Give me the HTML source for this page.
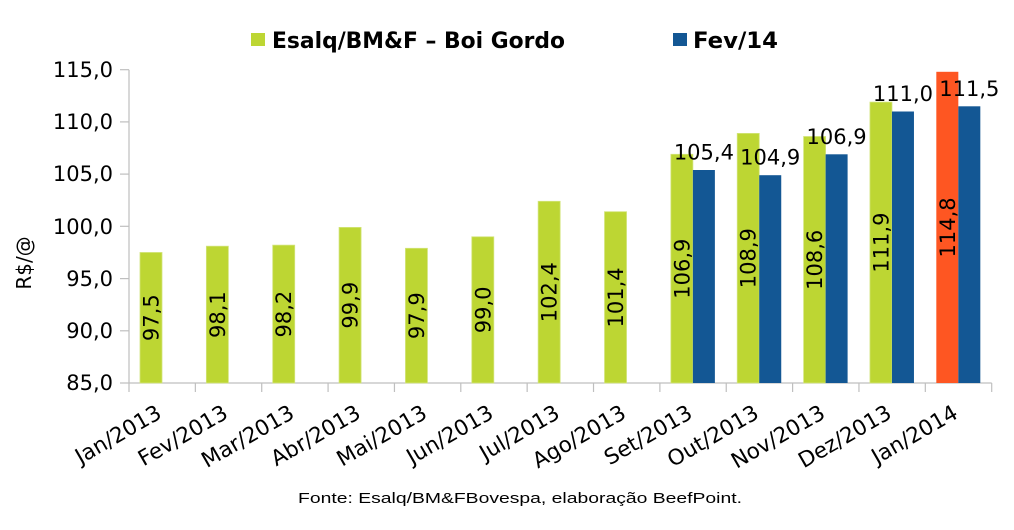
<!DOCTYPE html>
<html><head><meta charset="utf-8"><style>
html,body{margin:0;padding:0;background:#fff;}
svg{display:block;}
text{font-family:"DejaVu Sans","Liberation Sans",sans-serif;fill:#000;}
</style></head><body>
<svg width="1014" height="530" viewBox="0 0 1014 530" xmlns="http://www.w3.org/2000/svg">
<rect width="1014" height="530" fill="#fff"/>
<!-- legend -->
<rect x="251" y="33" width="14" height="13" fill="#bdd633"/>
<text x="272" y="48" font-size="22" font-weight="bold" textLength="293" lengthAdjust="spacingAndGlyphs">Esalq/BM&amp;F – Boi Gordo</text>
<rect x="673" y="33" width="14" height="13" fill="#135794"/>
<text x="693" y="48" font-size="22" font-weight="bold" textLength="85" lengthAdjust="spacingAndGlyphs">Fev/14</text>

<!-- axes -->
<g stroke="#bfbfbf" stroke-width="1.2" fill="none">
<line x1="129" y1="69.7" x2="129" y2="383"/>
<line x1="129" y1="383" x2="991.7" y2="383"/>
<line x1="120" y1="69.7" x2="129" y2="69.7"/>
<line x1="120" y1="121.9" x2="129" y2="121.9"/>
<line x1="120" y1="174.1" x2="129" y2="174.1"/>
<line x1="120" y1="226.3" x2="129" y2="226.3"/>
<line x1="120" y1="278.6" x2="129" y2="278.6"/>
<line x1="120" y1="330.8" x2="129" y2="330.8"/>
<line x1="120" y1="383" x2="129" y2="383"/>
<line x1="129" y1="383" x2="129" y2="392"/>
<line x1="195.36" y1="383" x2="195.36" y2="392"/>
<line x1="261.72" y1="383" x2="261.72" y2="392"/>
<line x1="328.08" y1="383" x2="328.08" y2="392"/>
<line x1="394.44" y1="383" x2="394.44" y2="392"/>
<line x1="460.8" y1="383" x2="460.8" y2="392"/>
<line x1="527.16" y1="383" x2="527.16" y2="392"/>
<line x1="593.52" y1="383" x2="593.52" y2="392"/>
<line x1="659.88" y1="383" x2="659.88" y2="392"/>
<line x1="726.24" y1="383" x2="726.24" y2="392"/>
<line x1="792.6" y1="383" x2="792.6" y2="392"/>
<line x1="858.96" y1="383" x2="858.96" y2="392"/>
<line x1="925.32" y1="383" x2="925.32" y2="392"/>
<line x1="991.7" y1="383" x2="991.7" y2="392"/>
</g>

<!-- y tick labels -->
<g font-size="21" text-anchor="end">
<text x="113" y="77">115,0</text>
<text x="113" y="129">110,0</text>
<text x="113" y="181">105,0</text>
<text x="113" y="234">100,0</text>
<text x="113" y="286">95,0</text>
<text x="113" y="338">90,0</text>
<text x="113" y="390">85,0</text>
</g>
<text transform="translate(31,263) rotate(-90)" font-size="20" text-anchor="middle">R$/@</text>

<!-- green bars -->
<g fill="#bdd633" stroke="#d2e47a" stroke-width="0.8">
<rect x="140" y="252.46" width="22" height="130.54"/>
<rect x="206.36" y="246.2" width="22" height="136.8"/>
<rect x="272.72" y="245.15" width="22" height="137.85"/>
<rect x="339.08" y="227.4" width="22" height="155.6"/>
<rect x="405.44" y="248.3" width="22" height="134.7"/>
<rect x="471.8" y="236.8" width="22" height="146.2"/>
<rect x="538.16" y="201.3" width="22" height="181.7"/>
<rect x="604.52" y="211.7" width="22" height="171.3"/>
<rect x="670.88" y="154.3" width="22" height="228.7"/>
<rect x="737.24" y="133.4" width="22" height="249.6"/>
<rect x="803.6" y="136.5" width="22" height="246.5"/>
<rect x="869.96" y="102.1" width="22" height="280.9"/>
</g>
<rect x="936.32" y="71.8" width="22" height="311.2" fill="#fe5622"/>
<!-- blue bars -->
<g fill="#135794">
<rect x="692.88" y="170" width="22" height="213"/>
<rect x="759.24" y="175.2" width="22" height="207.8"/>
<rect x="825.6" y="154.3" width="22" height="228.7"/>
<rect x="891.96" y="111.5" width="22" height="271.5"/>
<rect x="958.32" y="106.3" width="22" height="276.7"/>
</g>

<!-- rotated labels in bars -->
<g font-size="21" text-anchor="middle">
<text transform="translate(151,317.7) rotate(-90)" dy="7.5">97,5</text>
<text transform="translate(217.36,314.6) rotate(-90)" dy="7.5">98,1</text>
<text transform="translate(283.72,314.1) rotate(-90)" dy="7.5">98,2</text>
<text transform="translate(350.08,305.2) rotate(-90)" dy="7.5">99,9</text>
<text transform="translate(416.44,315.7) rotate(-90)" dy="7.5">97,9</text>
<text transform="translate(482.8,309.9) rotate(-90)" dy="7.5">99,0</text>
<text transform="translate(549.16,292.2) rotate(-90)" dy="7.5">102,4</text>
<text transform="translate(615.52,297.4) rotate(-90)" dy="7.5">101,4</text>
<text transform="translate(681.88,268.7) rotate(-90)" dy="7.5">106,9</text>
<text transform="translate(748.24,258.2) rotate(-90)" dy="7.5">108,9</text>
<text transform="translate(814.6,259.8) rotate(-90)" dy="7.5">108,6</text>
<text transform="translate(880.96,242.6) rotate(-90)" dy="7.5">111,9</text>
<text transform="translate(947.32,227.4) rotate(-90)" dy="7.5">114,8</text>
</g>
<!-- blue labels -->
<g font-size="21" text-anchor="middle">
<text x="703.88" y="159.5">105,4</text>
<text x="770.24" y="164.7">104,9</text>
<text x="836.6" y="143.8">106,9</text>
<text x="902.96" y="101">111,0</text>
<text x="969.32" y="95.8">111,5</text>
</g>

<!-- x labels -->
<g font-size="21.5" text-anchor="end">
<text transform="translate(163,417) rotate(-30)">Jan/2013</text>
<text transform="translate(229.36,417) rotate(-30)">Fev/2013</text>
<text transform="translate(295.72,417) rotate(-30)">Mar/2013</text>
<text transform="translate(362.08,417) rotate(-30)">Abr/2013</text>
<text transform="translate(428.44,417) rotate(-30)">Mai/2013</text>
<text transform="translate(494.8,417) rotate(-30)">Jun/2013</text>
<text transform="translate(561.16,417) rotate(-30)">Jul/2013</text>
<text transform="translate(627.52,417) rotate(-30)">Ago/2013</text>
<text transform="translate(693.88,417) rotate(-30)">Set/2013</text>
<text transform="translate(760.24,417) rotate(-30)">Out/2013</text>
<text transform="translate(826.6,417) rotate(-30)">Nov/2013</text>
<text transform="translate(892.96,417) rotate(-30)">Dez/2013</text>
<text transform="translate(959.32,417) rotate(-30)">Jan/2014</text>
</g>

<text x="298" y="503" font-size="15" style="font-family:'Liberation Sans',Arial,sans-serif" textLength="444" lengthAdjust="spacingAndGlyphs">Fonte:  Esalq/BM&amp;FBovespa,  elaboração  BeefPoint.</text>
</svg>
</body></html>
